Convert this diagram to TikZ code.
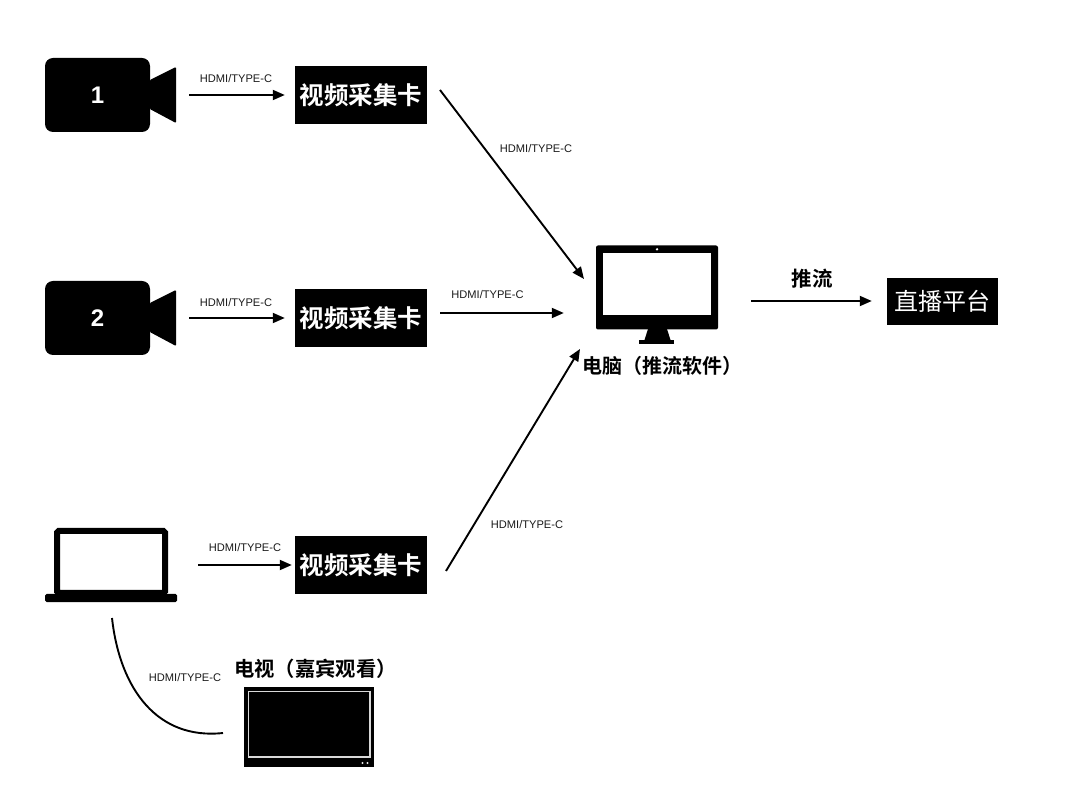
\documentclass[tikz,border=0pt]{standalone}
\usepackage{fontspec}
\setmainfont{Liberation Sans}
\newfontfamily\cjkb{Noto Sans CJK SC}
\newfontfamily\cjkbold{Noto Sans CJK SC Bold}
\usetikzlibrary{arrows.meta}
\tikzset{
  solidbox/.style={fill=black,draw=none,inner sep=0pt,text=white},
  cardbox/.style={solidbox,minimum width=132pt,minimum height=58pt,font=\cjkbold\fontsize{24.5}{25}\selectfont},
  cambody/.style={solidbox,rounded corners=8pt,minimum width=105pt,minimum height=74pt,font=\bfseries\fontsize{24}{24}\selectfont},
  camlens/.style={inner sep=0pt,minimum width=26pt,minimum height=56pt},
  link/.style={line width=1.9pt,-{Triangle[length=12pt,width=10pt]}},
  portlabel/.style={inner sep=0pt,text=black!90,font=\fontsize{11.1}{12}\selectfont},
  cjklabel/.style={inner sep=0pt,font=\cjkbold\fontsize{20}{20}\selectfont},
}
\begin{document}
\begin{tikzpicture}[x=1pt,y=-1pt]
\useasboundingbox (0,0) rectangle (1080,799);
% cameras
\node[cambody] (cam1) at (97.5,95) {1};
\node[camlens] (lens1) at (163,95) {};
\fill[rounded corners=1pt] (lens1.west |- 0,80) -- (176,67) -- (176,123) -- (lens1.west |- 0,109) -- cycle;
\node[cambody] (cam2) at (97.5,318) {2};
\node[camlens] (lens2) at (163,318) {};
\fill[rounded corners=1pt] (lens2.west |- 0,303) -- (176,290) -- (176,346) -- (lens2.west |- 0,332) -- cycle;
% capture cards
\node[cardbox] (card1) at (361,95) {视频采集卡};
\node[cardbox] (card2) at (361,318) {视频采集卡};
\node[cardbox] (card3) at (361,565) {视频采集卡};
% laptop
\node[draw=black,line width=6pt,fill=white,rounded corners=1.5pt,inner sep=0pt,minimum width=108pt,minimum height=62pt,anchor=north west] (laptop) at (54,528) {};
\node[solidbox,rounded corners=1.5pt,minimum width=132pt,minimum height=8pt] (laptopbase) at (111,598) {};
% monitor
\node[solidbox,rounded corners=2pt,minimum width=122pt,minimum height=84pt] (pc) at (657,287.5) {};
\fill[white] (603,253.5) rectangle (711,315);
\fill[white] (657,249.3) circle (1.3pt);
\fill (648,329) -- (667,329) -- (670.5,340) -- (644.5,340) -- cycle;
\fill (639,340) rectangle (674,344);
\node[cjklabel] (pclabel) at (662,366) {电脑（推流软件）};
% platform
\node[solidbox,minimum width=111pt,minimum height=47pt,font=\cjkb\fontsize{24}{24}\selectfont] (live) at (942.5,301.5) {\raisebox{-1pt}{直播平台}};
\node[cjklabel,font=\cjkbold\fontsize{20.5}{20}\selectfont] (pushlabel) at (812,279) {推流};
% TV
\node[solidbox,minimum width=130pt,minimum height=80pt] (tv) at (309,727) {};
\draw[black!15,line width=1.2pt] (248.5,691.5) rectangle (370,757);
\fill[black!10] (362.5,763) circle (1.2pt) (367.5,763) circle (1.2pt);
\node[cjklabel,font=\cjkbold\fontsize{20.3}{20}\selectfont] (tvlabel) at (315.5,669) {电视（嘉宾观看）};
% free ends
\coordinate (d1s) at (440,90);
\coordinate (d1e) at (584,279);
\coordinate (d2s) at (446,571);
\coordinate (d2e) at (580,349);
\coordinate (c1) at (112,618);
\coordinate (c2) at (223,733);
% connectors
\draw[link,shorten <=13pt,shorten >=10pt] (lens1.east) -- (card1.west);
\draw[link,shorten <=13pt,shorten >=10pt] (lens2.east) -- (card2.west);
\draw[link,shorten <=30pt,shorten >=3pt] (laptop.east |- card3.west) -- (card3.west);
\draw[link,shorten <=13pt,shorten >=32pt] (card2.east |- 0,313) -- (pc.west |- 0,313);
\draw[link] (d1s) -- (d1e);
\draw[link] (d2s) -- (d2e);
\draw[link,shorten <=33pt,shorten >=15pt] (pc.east |- 0,301) -- (live.west |- 0,301);
\draw[line width=1.9pt] (c1) .. controls (120,690) and (158,740) .. (c2);
% labels
\node[portlabel] (l1) at (236,78.5) {HDMI/TYPE-C};
\node[portlabel] (l2) at (236,302.5) {HDMI/TYPE-C};
\node[portlabel] (l3) at (245,547.5) {HDMI/TYPE-C};
\node[portlabel] (l4) at (536,148.5) {HDMI/TYPE-C};
\node[portlabel] (l5) at (487.5,294.5) {HDMI/TYPE-C};
\node[portlabel] (l6) at (527,524.5) {HDMI/TYPE-C};
\node[portlabel] (l7) at (185,677.5) {HDMI/TYPE-C};
\end{tikzpicture}
\end{document}
